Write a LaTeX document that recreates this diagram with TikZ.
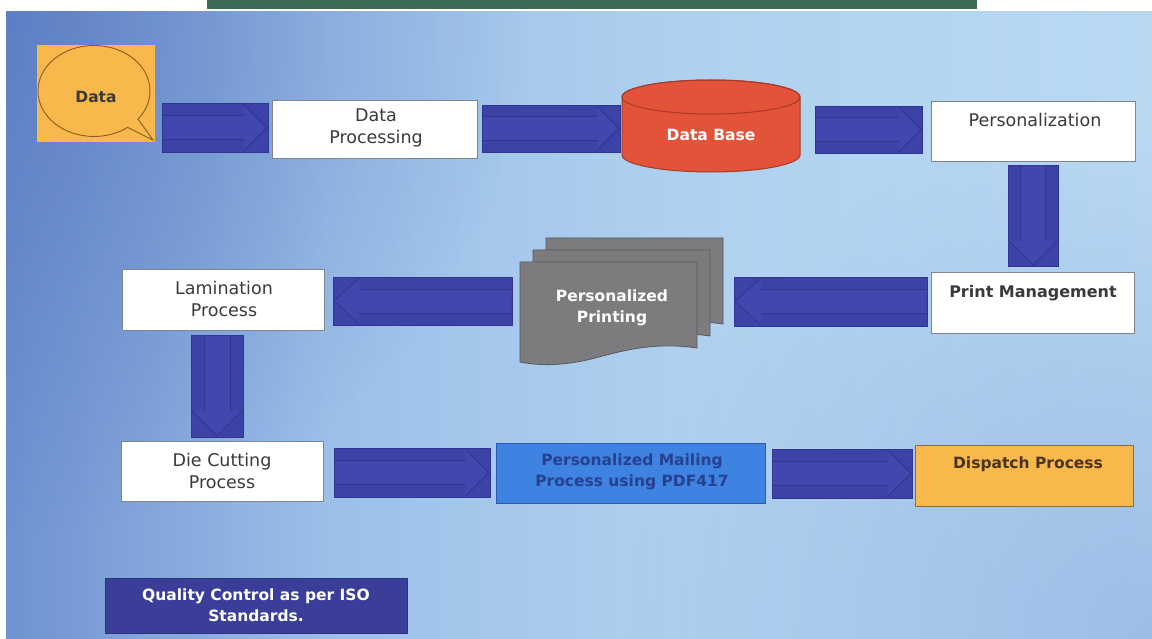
\documentclass[tikz,border=0pt]{standalone}
\usepackage{fontspec}
\setmainfont{DejaVu Sans}
\usetikzlibrary{shapes.callouts,fadings}
\definecolor{greenbar}{HTML}{3E6B58}
\definecolor{bgA}{HTML}{6F92D2}
\definecolor{bgB}{HTML}{9CBFE8}
\definecolor{bgC}{HTML}{AFD1EF}
\definecolor{bgD}{HTML}{B9D9F3}
\definecolor{bgdark}{HTML}{4E6FB9}
\definecolor{bgbr}{HTML}{86A6DC}
\definecolor{arrblue}{HTML}{3C42A6}
\definecolor{arrin}{HTML}{4147AE}
\definecolor{arrline}{HTML}{30358F}
\definecolor{orng}{HTML}{F8B84B}
\definecolor{brownline}{HTML}{8A5B22}
\definecolor{txtgray}{HTML}{3A3A3A}
\definecolor{boxline}{HTML}{7D8590}
\definecolor{dbred}{HTML}{E2533A}
\definecolor{dbline}{HTML}{A83A26}
\definecolor{docgray}{HTML}{7C7C7E}
\definecolor{docline}{HTML}{58585C}
\definecolor{mailblue}{HTML}{3E82E2}
\definecolor{mailline}{HTML}{2B5BB0}
\definecolor{mailtxt}{HTML}{27408F}
\definecolor{displine}{HTML}{8C6A3C}
\definecolor{disptxt}{HTML}{4A3418}
\definecolor{qcblue}{HTML}{3A3E98}
% TikZ maps the path onto the middle 25bp..75bp of the shading
\pgfdeclarehorizontalshading{bgh}{100bp}{color(0bp)=(bgA); color(25bp)=(bgA); color(39bp)=(bgB); color(55bp)=(bgC); color(75bp)=(bgD); color(100bp)=(bgD)}
\tikzfading[name=rfade, inner color=transparent!0, outer color=transparent!100]
\tikzset{
  blk/.style={rectangle, inner sep=0pt, fill=arrblue, draw=arrline, line width=0.8pt},
  inarr/.style={draw=arrline, line width=0.8pt},
  infill/.style={fill=arrin},
  wbox/.style={rectangle, inner sep=0pt, fill=white, draw=boxline, line width=0.8pt},
  lab/.style={font=\fontsize{17.5}{22}\selectfont, text=txtgray, align=center, inner sep=0pt},
  blab/.style={font=\bfseries\fontsize{15.5}{21}\selectfont, align=center, inner sep=0pt},
  doc/.style={fill=docgray, draw=docline, line width=0.8pt}
}
% right-pointing block arrow: name x1 y1 x2 y2
\newcommand\arrR[5]{%
  \node[blk, minimum width={(#4-#2)*1pt}, minimum height={(#5-#3)*1pt}] (#1) at ({(#2+#4)/2},{(#3+#5)/2}) {};
  \fill[infill] ({#2+1},{#3+0.25*(#5-#3)}) -- ({#4-0.5*(#5-#3)},{#3+0.25*(#5-#3)}) -- ({#4-0.5*(#5-#3)},{#3+1}) -- ({#4-1},{(#3+#5)/2}) -- ({#4-0.5*(#5-#3)},{#5-1}) -- ({#4-0.5*(#5-#3)},{#3+0.75*(#5-#3)}) -- ({#2+1},{#3+0.75*(#5-#3)}) -- cycle;
  \draw[inarr] ({#2+1},{#3+0.25*(#5-#3)}) -- ({#4-0.5*(#5-#3)},{#3+0.25*(#5-#3)});
  \draw[inarr] ({#2+1},{#3+0.75*(#5-#3)}) -- ({#4-0.5*(#5-#3)},{#3+0.75*(#5-#3)});
  \draw[inarr] ({#4-0.5*(#5-#3)},{#3+1}) -- ({#4-1},{(#3+#5)/2}) -- ({#4-0.5*(#5-#3)},{#5-1});
}
\newcommand\arrL[5]{%
  \node[blk, minimum width={(#4-#2)*1pt}, minimum height={(#5-#3)*1pt}] (#1) at ({(#2+#4)/2},{(#3+#5)/2}) {};
  \fill[infill] ({#4-1},{#3+0.25*(#5-#3)}) -- ({#2+0.55*(#5-#3)},{#3+0.25*(#5-#3)}) -- ({#2+0.55*(#5-#3)},{#3+1}) -- ({#2+1},{(#3+#5)/2}) -- ({#2+0.55*(#5-#3)},{#5-1}) -- ({#2+0.55*(#5-#3)},{#3+0.75*(#5-#3)}) -- ({#4-1},{#3+0.75*(#5-#3)}) -- cycle;
  \draw[inarr] ({#4-1},{#3+0.25*(#5-#3)}) -- ({#2+0.55*(#5-#3)},{#3+0.25*(#5-#3)});
  \draw[inarr] ({#4-1},{#3+0.75*(#5-#3)}) -- ({#2+0.55*(#5-#3)},{#3+0.75*(#5-#3)});
  \draw[inarr] ({#2+0.55*(#5-#3)},{#3+1}) -- ({#2+1},{(#3+#5)/2}) -- ({#2+0.55*(#5-#3)},{#5-1});
}
\newcommand\arrD[5]{%
  \node[blk, minimum width={(#4-#2)*1pt}, minimum height={(#5-#3)*1pt}] (#1) at ({(#2+#4)/2},{(#3+#5)/2}) {};
  \fill[infill] ({#2+0.25*(#4-#2)},{#3+1}) -- ({#2+0.25*(#4-#2)},{#5-0.5*(#4-#2)}) -- ({#2+1},{#5-0.5*(#4-#2)}) -- ({(#2+#4)/2},{#5-1}) -- ({#4-1},{#5-0.5*(#4-#2)}) -- ({#2+0.75*(#4-#2)},{#5-0.5*(#4-#2)}) -- ({#2+0.75*(#4-#2)},{#3+1}) -- cycle;
  \draw[inarr] ({#2+0.25*(#4-#2)},{#3+1}) -- ({#2+0.25*(#4-#2)},{#5-0.5*(#4-#2)});
  \draw[inarr] ({#2+0.75*(#4-#2)},{#3+1}) -- ({#2+0.75*(#4-#2)},{#5-0.5*(#4-#2)});
  \draw[inarr] ({#2+1},{#5-0.5*(#4-#2)}) -- ({(#2+#4)/2},{#5-1}) -- ({#4-1},{#5-0.5*(#4-#2)});
}
\begin{document}
\begin{tikzpicture}[x=1pt,y=-1pt]
\useasboundingbox (0,0) rectangle (1152,639);
\fill[white] (0,0) rectangle (1152,639);
\fill[greenbar] (207,0) rectangle (977,9);
% background
\shade[shading=bgh] (6,12) rectangle (1152,639);
\begin{scope}
  \clip (6,12) rectangle (1152,639);
  \fill[bgdark, path fading=rfade, fill opacity=0.55] (6,12) circle[radius=520];
  \fill[bgbr, path fading=rfade, fill opacity=0.55] (1152,639) circle[radius=520];
\end{scope}

% Data speech bubble
\node[rectangle, inner sep=0pt, fill=orng, minimum width=118, minimum height=97] (datasq) at (96,93.5) {};
\node[ellipse callout, draw=brownline, line width=0.9pt, inner sep=0pt, minimum width=112, minimum height=91,
      callout absolute pointer={(153,140)}] (data) at (94,91) {};
\node[blab, text=txtgray] (datat) at (96,97) {Data};

% top row
\arrR{a1}{162}{103}{268}{152}
\node[wbox, minimum width=205, minimum height=58] (dp) at (374.5,129) {};
\node[lab] (dpt) at (376,128) {Data\\Processing};
\arrR{a2}{482}{105}{620}{152}

% Data Base cylinder
\path[fill=dbred, draw=dbline, line width=1pt] (622,97) -- (622,155)
  arc[start angle=180, end angle=0, x radius=89, y radius=17] -- (800,97)
  arc[start angle=0, end angle=-180, x radius=89, y radius=17] -- cycle;
\draw[dbline, line width=1pt] (711,97) ellipse[x radius=89, y radius=17];
\node[blab, text=white] (db) at (711,135) {Data Base};

\arrR{a3}{815}{106}{922}{153}
\node[wbox, minimum width=204, minimum height=60] (pers) at (1033,131) {};
\node[lab] (perst) at (1035,120) {Personalization};

\arrD{a4}{1008}{165}{1058}{266}

% middle row
\node[wbox, minimum width=203, minimum height=61] (pm) at (1032.5,302.5) {};
\node[blab, text=txtgray, font=\bfseries\fontsize{16}{21}\selectfont] (pmt) at (1033,293) {Print Management};
\arrL{a5}{734}{277}{927}{326}

% Personalized Printing stack
\begin{scope}[shift={(26,-24)}]
  \path[doc] (520,262) -- (697,262) -- (697,348) .. controls (655,342) and (625,350) .. (595,358) .. controls (565,366) and (540,366) .. (520,362) -- cycle;
\end{scope}
\begin{scope}[shift={(13,-12)}]
  \path[doc] (520,262) -- (697,262) -- (697,348) .. controls (655,342) and (625,350) .. (595,358) .. controls (565,366) and (540,366) .. (520,362) -- cycle;
\end{scope}
\path[doc] (520,262) -- (697,262) -- (697,348) .. controls (655,342) and (625,350) .. (595,358) .. controls (565,366) and (540,366) .. (520,362) -- cycle;
\node[blab, text=white] (pp) at (612,308) {Personalized\\Printing};

\arrL{a6}{333}{277}{512}{325}
\node[wbox, minimum width=202, minimum height=61] (lam) at (223,299.5) {};
\node[lab] (lamt) at (224,299) {Lamination\\Process};

\arrD{a7}{191}{335}{243}{437}

% bottom row
\node[wbox, minimum width=202, minimum height=60] (die) at (222,471) {};
\node[lab] (diet) at (222,471) {Die Cutting\\Process};
\arrR{a8}{334}{448}{490}{497}
\node[rectangle, inner sep=0pt, fill=mailblue, draw=mailline, line width=1pt, minimum width=269, minimum height=60] (mail) at (630.5,473) {};
\node[blab, text=mailtxt] (mailt) at (632,472) {Personalized Mailing\\Process using PDF417};
\arrR{a9}{772}{449}{912}{498}
\node[rectangle, inner sep=0pt, fill=orng, draw=displine, line width=1pt, minimum width=218, minimum height=61] (disp) at (1024,475.5) {};
\node[blab, text=disptxt] (dispt) at (1028,464) {Dispatch Process};

% quality control
\node[rectangle, inner sep=0pt, fill=qcblue, draw=qcblue!80!black, line width=0.8pt, minimum width=302, minimum height=55] (qc) at (256,605.5) {};
\node[blab, text=white] (qct) at (256,605) {Quality Control as per ISO\\Standards.};
\end{tikzpicture}
\end{document}
